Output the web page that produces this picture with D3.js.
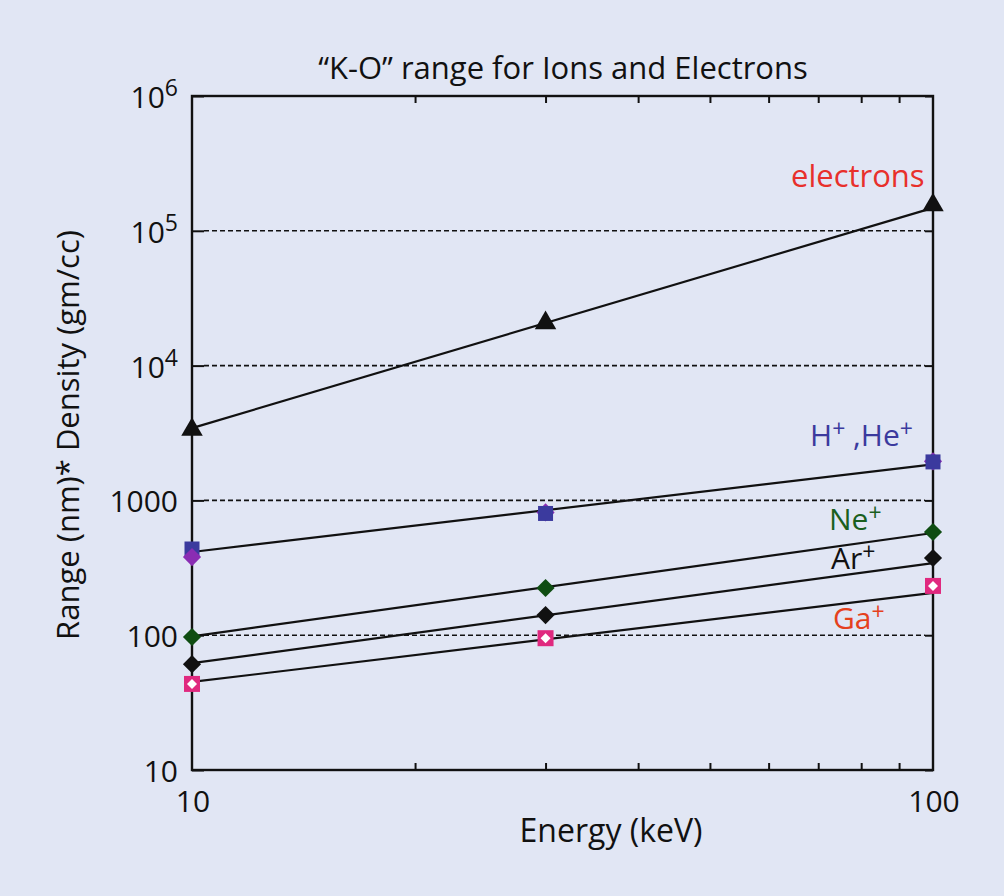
<!DOCTYPE html>
<html>
<head>
<meta charset="utf-8">
<script src="https://cdn.jsdelivr.net/npm/d3@7"></script>
<style>
  html, body { margin: 0; padding: 0; background: #e1e6f4; }
  svg { display: block; font-family: "Open Sans", sans-serif; }
</style>
</head>
<body>
<svg id="chart" width="1004" height="896"></svg>
<script>
// ---- data ----
const energies = [10, 30, 100];
const electronVals = [3350, 20700, 155000];
const hVals = [436, 800, 1930];
const heVals = [380, 815, 1950];
const neVals = [97, 224, 583];
const arVals = [61, 141, 374];
const gaVals = [43.5, 95, 232];
// straight fitted lines (value at 10 keV and 100 keV)
const lineEnergies = [10, 100];
const electronLine = [3440, 148000];
const hLine = [414, 1850];
const neLine = [98, 573];
const arLine = [62, 343];
const gaLine = [45, 206];
const yTickVals = [10, 100, 1000, 1e4, 1e5, 1e6];
const yTickLabels = [["10", ""], ["100", ""], ["1000", ""], ["10", "4"], ["10", "5"], ["10", "6"]];
const gridVals = [100, 1000, 1e4, 1e5];
const xMinorTicks = [20, 30, 40, 50, 60, 70, 80, 90];
const xLabelVals = [10, 100];
const xLabels = ["10", "100"];

const svg = d3.select("#chart");
const W = 1004, H = 896;
const m = { left: 192, top: 96, right: 71, bottom: 126 };
const pw = W - m.left - m.right, ph = H - m.top - m.bottom;

const x = d3.scaleLog().domain([10, 100]).range([m.left, m.left + pw]);
const y = d3.scaleLog().domain([10, 1e6]).range([m.top + ph, m.top]);

svg.append("rect").attr("width", W).attr("height", H).attr("fill", "#e1e6f4");

// grid dashes
svg.append("g").selectAll("line").data(gridVals).join("line")
  .attr("x1", m.left + 12).attr("x2", m.left + pw - 8)
  .attr("y1", d => y(d)).attr("y2", d => y(d))
  .attr("stroke", "#111").attr("stroke-width", 1.6).attr("stroke-dasharray", "5,3");

// axes (ticks inward)
const axStyle = g => { g.select(".domain").remove(); g.selectAll(".tick line").attr("stroke", "#111").attr("stroke-width", 2); g.selectAll("text").remove(); };
svg.append("g").attr("transform", `translate(0,${m.top + ph})`)
  .call(d3.axisBottom(x).tickValues(xMinorTicks).tickSize(-7)).call(axStyle);
svg.append("g").attr("transform", `translate(0,${m.top})`)
  .call(d3.axisTop(x).tickValues(xMinorTicks).tickSize(-7)).call(axStyle);
svg.append("g").attr("transform", `translate(${m.left},0)`)
  .call(d3.axisLeft(y).tickValues(yTickVals).tickSize(-12)).call(axStyle);
svg.append("g").attr("transform", `translate(${m.left + pw},0)`)
  .call(d3.axisRight(y).tickValues(yTickVals).tickSize(-8)).call(axStyle);

// frame
svg.append("rect").attr("x", m.left).attr("y", m.top).attr("width", pw).attr("height", ph)
  .attr("fill", "none").attr("stroke", "#111").attr("stroke-width", 2.4);

// y tick labels
const yl = svg.append("g").attr("font-size", 30).attr("fill", "#111");
yTickVals.forEach((v, i) => {
  const t = yl.append("text").attr("x", m.left - 14).attr("y", y(v) + 12).attr("text-anchor", "end");
  t.append("tspan").text(yTickLabels[i][0]);
  if (yTickLabels[i][1]) t.append("tspan").attr("dy", -12).attr("font-size", 23).text(yTickLabels[i][1]);
});
// x tick labels
svg.append("g").selectAll("text").data(xLabelVals).join("text")
  .attr("x", d => x(d) + 1).attr("y", m.top + ph + 42).attr("text-anchor", "middle")
  .attr("font-size", 30).attr("fill", "#111").text((d, i) => xLabels[i]);

// titles
svg.append("text").attr("x", 563).attr("y", 79).attr("text-anchor", "middle")
  .attr("font-size", 31).attr("fill", "#111").text("\u201CK-O\u201D range for Ions and Electrons");
svg.append("text").attr("x", 611).attr("y", 842).attr("text-anchor", "middle")
  .attr("font-size", 32).attr("fill", "#111").text("Energy (keV)");
svg.append("text").attr("transform", "translate(79,435) rotate(-90)").attr("text-anchor", "middle")
  .attr("font-size", 31).attr("fill", "#111").text("Range (nm)* Density (gm/cc)");

// fitted lines
const lineGen = d3.line().x(d => x(d[0])).y(d => y(d[1]));
[electronLine, hLine, neLine, arLine, gaLine].forEach(arr => {
  svg.append("path").attr("d", lineGen(lineEnergies.map((e, i) => [e, arr[i]])))
    .attr("fill", "none").attr("stroke", "#111").attr("stroke-width", 2.2);
});

// markers
const tri = d3.symbol().type(d3.symbolTriangle).size(200)();
const sq = d3.symbol().type(d3.symbolSquare).size(225)();
const dia = d3.symbol().type(d3.symbolSquare).size(165)();
const gaSq = d3.symbol().type(d3.symbolSquare).size(256)();
const gaIn = d3.symbol().type(d3.symbolSquare).size(50)();

const markers = [];
energies.forEach((e, i) => {
  markers.push({ e, v: electronVals[i], kind: "tri", fill: "#111" });
  markers.push({ e, v: hVals[i], kind: "sq", fill: "#3b3a9e" });
  markers.push({ e, v: heVals[i], kind: "dia", fill: "#8a2db3" });
  markers.push({ e, v: neVals[i], kind: "dia", fill: "#0f4d12" });
  markers.push({ e, v: arVals[i], kind: "dia", fill: "#111" });
  markers.push({ e, v: gaVals[i], kind: "ga", fill: "#e0297f" });
});
markers.sort((a, b) => b.v - a.v);
const mg = svg.append("g");
markers.forEach(d => {
  const g = mg.append("g").attr("transform", `translate(${x(d.e)},${y(d.v)})`);
  if (d.kind === "tri") g.append("path").attr("d", tri).attr("fill", d.fill);
  else if (d.kind === "sq") g.append("path").attr("d", sq).attr("fill", d.fill);
  else if (d.kind === "dia") g.append("path").attr("d", dia).attr("transform", "rotate(45)").attr("fill", d.fill);
  else {
    g.append("path").attr("d", gaSq).attr("fill", d.fill);
    g.append("path").attr("d", gaIn).attr("transform", "rotate(45)").attr("fill", "#fff");
  }
});

// series labels
function label(xp, yp, main, sup, color, rest) {
  const t = svg.append("text").attr("x", xp).attr("y", yp).attr("font-size", 30).attr("fill", color);
  t.append("tspan").text(main);
  if (sup) t.append("tspan").attr("dy", -9).attr("font-size", 23).text(sup);
  if (rest) {
    t.append("tspan").attr("dy", 9).text(rest[0]);
    t.append("tspan").attr("dy", -9).attr("font-size", 23).text(rest[1]);
  }
  return t;
}
svg.append("text").attr("x", 791).attr("y", 187).attr("font-size", 31).attr("fill", "#e8302b").text("electrons");
label(810, 446, "H", "+", "#3b3a9e", [" ,He", "+"]);
label(829, 530, "Ne", "+", "#1a5f1e");
label(831, 569, "Ar", "+", "#111");
label(833, 629, "Ga", "+", "#e5411d");
</script>
</body>
</html>
